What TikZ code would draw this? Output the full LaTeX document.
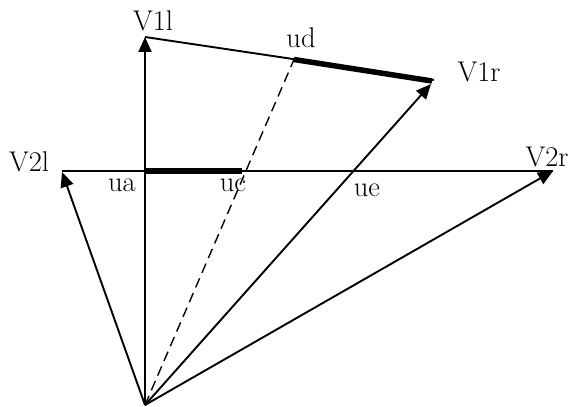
\documentclass[tikz,border=0pt]{standalone}
\usetikzlibrary{arrows.meta}
\begin{document}
\begin{tikzpicture}[x=1pt,y=1pt,
  vec/.style={line width=1.9pt,-{Triangle[length=15pt,width=13pt]}},
  thinline/.style={line width=1.9pt},
  heavy/.style={line width=5.5pt},
  dashline/.style={line width=1.4pt,dash pattern=on 10pt off 6pt},
  lab/.style={anchor=base,inner sep=0pt,font=\fontsize{28.5}{32}\selectfont}]
\useasboundingbox (0,0) rectangle (574,407);
\coordinate (O) at (145,2);
\coordinate (V1l) at (145,370);
\coordinate (V1rend) at (434,327);
\coordinate (V1r) at (431,323);
\coordinate (V2l) at (62,235);
\coordinate (V2r) at (553,236);
\coordinate (H0) at (62,236);
\coordinate (ua) at (145,236);
\coordinate (uc) at (242,236);
\coordinate (ud) at (294,347.5);
\coordinate (udend) at (432,326);
% lines
\draw[thinline] (V1l) -- (V1rend);
\draw[heavy] (ud) -- (udend);
\draw[thinline] (H0) -- (V2r);
\draw[heavy] (ua) -- (uc);
\draw[dashline] (O) -- (ud);
% vectors
\draw[vec] (O) -- (V1l);
\draw[vec] (O) -- (V1r);
\draw[vec] (O) -- (V2l);
\draw[vec] (O) -- (V2r);
% labels
\node[lab] (tV1l) at (153,376) {V1l};
\node[lab] (tV1r) at (479,325) {V1r};
\node[lab] (tV2l) at (29,235) {V2l};
\node[lab] (tV2r) at (547,240) {V2r};
\node[lab] (tua) at (122,215) {ua};
\node[lab] (tuc) at (233,215) {uc};
\node[lab] (tue) at (367,210) {ue};
\node[lab] (tud) at (301,359) {ud};
\end{tikzpicture}
\end{document}
